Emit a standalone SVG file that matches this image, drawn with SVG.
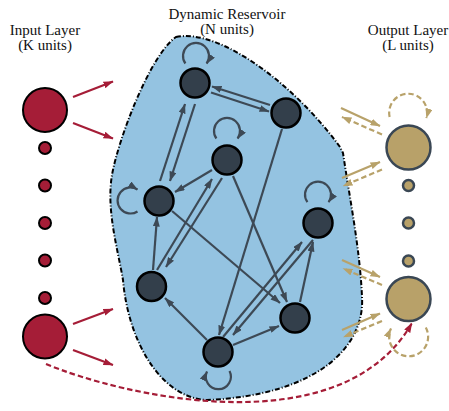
<svg xmlns="http://www.w3.org/2000/svg" width="449" height="411" viewBox="0 0 449 411">
  <style>
    .title { font-family: "Liberation Serif", "Times New Roman", serif; font-size: 15px; fill: #111; text-anchor: middle; }
    .res-node { fill: #333f4b; stroke: #000; stroke-width: 2.5; }
    .in-node { fill: #a51d37; stroke: #000; stroke-width: 2; }
    .out-node { fill: #b8a169; stroke: #3a4754; stroke-width: 2.5; }
    .edge { fill: none; stroke: #3d4955; stroke-width: 2.2; marker-end: url(#ah-dark); }
    .in-edge { fill: none; stroke: #a51d37; stroke-width: 2.2; marker-end: url(#ah-red); }
    .out-edge { fill: none; stroke: #b8a26a; stroke-width: 2.2; marker-end: url(#ah-tan); }
    .dashed { stroke-dasharray: 5.5 3; }
  </style>
  <defs>
    <marker id="ah-dark" markerUnits="userSpaceOnUse" markerWidth="10" markerHeight="7" refX="9.5" refY="3.5" orient="auto">
      <path d="M0,0 L10,3.5 L0,7 z" fill="#3d4955"/>
    </marker>
    <marker id="ah-red" markerUnits="userSpaceOnUse" markerWidth="10" markerHeight="7" refX="9.5" refY="3.5" orient="auto">
      <path d="M0,0 L10,3.5 L0,7 z" fill="#a51d37"/>
    </marker>
    <marker id="ah-tan" markerUnits="userSpaceOnUse" markerWidth="10" markerHeight="7" refX="9.5" refY="3.5" orient="auto">
      <path d="M0,0 L10,3.5 L0,7 z" fill="#b8a26a"/>
    </marker>
  </defs>

  <rect width="449" height="411" fill="#fff"/>

  <!-- layer titles -->
  <g id="titles">
    <text class="title" x="45" y="35">Input Layer</text>
    <text class="title" x="45" y="50">(K units)</text>
    <text class="title" x="227" y="19">Dynamic Reservoir</text>
    <text class="title" x="227" y="34">(N units)</text>
    <text class="title" x="408" y="35">Output Layer</text>
    <text class="title" x="408" y="50">(L units)</text>
  </g>

  <!-- reservoir boundary -->
  <g id="reservoir">
    <path d="M176,37 C220,28 295,85 340,147 L343,153 C350,200 360,250 362,297 C365,345 320,395 207,400 C160,398 128,340 123,280 C118,250 106,210 112,175 C118,140 150,55 176,37 Z"
          fill="#94c3e1" stroke="#000" stroke-width="2" stroke-dasharray="5 2 1 2"/>
  </g>

  <!-- connectors -->
  <g id="connectors">
    <!-- input to reservoir -->
    <path class="in-edge" d="M73,97 L113,81.5"/>
    <path class="in-edge" d="M73,123 L113,138.5"/>
    <path class="in-edge" d="M73,324 L113,309"/>
    <path class="in-edge" d="M73,350 L113,365"/>
    <!-- direct input to output -->
    <path class="in-edge dashed" d="M46,364 C120,395 340,448 412,323"/>

    <!-- recurrent reservoir links -->
    <path class="edge" d="M270,105 L212,86.5"/>
    <path class="edge" d="M211,92.5 L269,111.5"/>
    <path class="edge" d="M160,181 L185,104"/>
    <path class="edge" d="M195,104 L170,181"/>
    <path class="edge" d="M212,170 L175,192"/>
    <path class="edge" d="M282,129 L219,335"/>
    <path class="edge" d="M233,176 L287,302"/>
    <path class="edge" d="M172,211 L280,303"/>
    <path class="edge" d="M153,270 L157,217"/>
    <path class="edge" d="M157,270 L212,179"/>
    <path class="edge" d="M222,178 L166,267"/>
    <path class="edge" d="M207,340 L165,298"/>
    <path class="edge" d="M233,345 L279,326"/>
    <path class="edge" d="M223,337 L302,242"/>
    <path class="edge" d="M313,240 L233,335"/>
    <path class="edge" d="M300,302 L313,242"/>

    <!-- reservoir self-loops -->
    <path class="edge" d="M185.4,63.5 A13,13 0 1 1 206.6,63.5"/>
    <path class="edge" d="M216.4,138.5 A13,13 0 1 1 237.6,138.5"/>
    <path class="edge" d="M307.4,202.2 A13,13 0 1 1 328.6,202.2"/>
    <path class="edge" d="M137.5,211.5 A13,13 0 1 1 137.5,189.5"/>
    <path class="edge" d="M229.5,371 A12.5,12.5 0 1 1 207,371.5"/>

    <!-- reservoir to output (solid) and output feedback (dashed) -->
    <path class="out-edge" d="M341,108 L380,126"/>
    <path class="out-edge dashed" d="M382,134.5 L342,117"/>
    <path class="out-edge" d="M342,178 L380,162"/>
    <path class="out-edge dashed" d="M382,169.5 L343,186"/>
    <path class="out-edge" d="M342,260 L380,277"/>
    <path class="out-edge dashed" d="M382,285 L343,268.5"/>
    <path class="out-edge" d="M342,330 L380,313.5"/>
    <path class="out-edge dashed" d="M382,321 L343.5,337"/>

    <!-- output self-loops -->
    <path class="out-edge dashed" d="M389.6,116.9 A19,19 0 1 1 426.4,118"/>
    <path class="out-edge dashed" d="M425.8,327.5 A19.5,19.5 0 1 1 391,328.5"/>
  </g>

  <!-- input units -->
  <g id="input-1"><circle class="in-node" cx="45" cy="110" r="22"/></g>
  <g id="input-2"><circle class="in-node" cx="45" cy="148" r="6"/></g>
  <g id="input-3"><circle class="in-node" cx="45" cy="185.5" r="6"/></g>
  <g id="input-4"><circle class="in-node" cx="45" cy="223" r="6"/></g>
  <g id="input-5"><circle class="in-node" cx="45" cy="260.5" r="6"/></g>
  <g id="input-6"><circle class="in-node" cx="45" cy="298" r="6"/></g>
  <g id="input-7"><circle class="in-node" cx="45" cy="336.5" r="22"/></g>

  <!-- reservoir units -->
  <g id="res-1"><circle class="res-node" cx="195" cy="83" r="14.5"/></g>
  <g id="res-2"><circle class="res-node" cx="286" cy="113" r="14.5"/></g>
  <g id="res-3"><circle class="res-node" cx="227" cy="160" r="14.5"/></g>
  <g id="res-4"><circle class="res-node" cx="159" cy="201" r="14.5"/></g>
  <g id="res-5"><circle class="res-node" cx="318" cy="223" r="14.5"/></g>
  <g id="res-6"><circle class="res-node" cx="151.5" cy="286.5" r="14.5"/></g>
  <g id="res-7"><circle class="res-node" cx="295" cy="318" r="14.5"/></g>
  <g id="res-8"><circle class="res-node" cx="218" cy="352" r="14.5"/></g>

  <!-- output units -->
  <g id="output-1"><circle class="out-node" cx="408.5" cy="147.5" r="22"/></g>
  <g id="output-2"><circle class="out-node" cx="408.5" cy="185.5" r="5.5"/></g>
  <g id="output-3"><circle class="out-node" cx="408.5" cy="223" r="5.5"/></g>
  <g id="output-4"><circle class="out-node" cx="408.5" cy="261" r="5.5"/></g>
  <g id="output-5"><circle class="out-node" cx="408.5" cy="299" r="22"/></g>
</svg>
